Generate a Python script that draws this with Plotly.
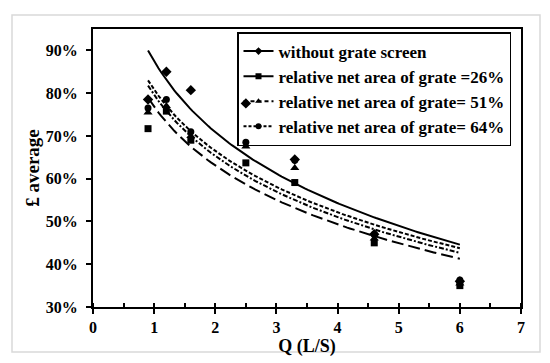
import numpy as np
import plotly.graph_objects as go

# ---- data ----
q_values = [0.9, 1.2, 1.6, 2.5, 3.3, 4.6, 6.0]
series_names = [
    "without grate screen",
    "relative net area of grate =26%",
    "relative net area of grate= 51%",
    "relative net area of grate= 64%",
]
eff_without = [78.5, 85.0, 80.7, 77.6, 64.5, 47.0, 36.0]
eff_26 = [71.7, 75.8, 69.0, 63.7, 59.1, 45.0, 35.0]
eff_51 = [75.5, 77.0, 70.0, 67.5, 62.5, 46.0, 35.5]
eff_64 = [76.5, 78.5, 71.0, 68.5, 64.3, 47.0, 36.3]
y_ticks = [30, 40, 50, 60, 70, 80, 90]
y_tick_labels = ["30%", "40%", "50%", "60%", "70%", "80%", "90%"]
x_ticks = [0, 1, 2, 3, 4, 5, 6, 7]

all_series = [eff_without, eff_26, eff_51, eff_64]
symbols = ["diamond", "square", "triangle-up", "circle"]
marker_sizes = [8, 7, 8, 7]
trend_dash = ["solid", "12px,5px", "5px,2px,2px,2px", "4px,2px"]
legend_dash = ["solid", "solid", "4px,3px", "3px,2px"]

FONT = "Liberation Serif"
fig = go.Figure()

x_arr = np.array(q_values)
xs = np.linspace(x_arr.min(), x_arr.max(), 120)
for name, vals, td in zip(series_names, all_series, trend_dash):
    # logarithmic trend line (least squares on ln x)
    b, a = np.polyfit(np.log(x_arr), np.array(vals), 1)
    fig.add_trace(go.Scatter(x=xs, y=a + b * np.log(xs), mode="lines",
                             line=dict(color="black", width=2, dash=td),
                             showlegend=False, hoverinfo="skip"))

for name, vals, sym, ms in zip(series_names, all_series, symbols, marker_sizes):
    fig.add_trace(go.Scatter(x=q_values, y=vals, mode="markers",
                             marker=dict(symbol=sym, size=ms, color="black"),
                             showlegend=False, name=name))

for name, sym, ld in zip(series_names, symbols, legend_dash):
    fig.add_trace(go.Scatter(x=[None], y=[None], mode="lines+markers", name=name,
                             marker=dict(symbol=sym, size=6, color="black"),
                             line=dict(color="black", width=2, dash=ld)))

L, R, T, B = 93, 29, 29, 56
W, H = 550, 363
pw, ph = W - L - R, H - T - B

def px_x(p):
    return (p - L) / pw

def px_y(p):
    return (H - B - p) / ph

fig.update_layout(
    width=W, height=H,
    margin=dict(l=L, r=R, t=T, b=B),
    paper_bgcolor="white", plot_bgcolor="white",
    font=dict(family=FONT, size=16, color="black", weight="bold"),
    showlegend=True,
    legend=dict(x=px_x(237), y=px_y(32), xanchor="left", yanchor="top",
                bgcolor="rgba(0,0,0,0)", bordercolor="black", borderwidth=1.5,
                font=dict(family=FONT, size=17, color="black", weight="bold"),
                itemwidth=30, tracegroupgap=0),
    xaxis=dict(range=[0, 7], tickvals=x_ticks, ticks="outside", ticklen=5, tickwidth=2,
               tickcolor="black", showline=True, linewidth=2, linecolor="black", mirror=True,
               showgrid=False, zeroline=False,
               minor=dict(dtick=0.5, ticks="inside", ticklen=4, tickwidth=2, tickcolor="black", showgrid=False),
               tickfont=dict(family=FONT, size=16, weight="bold"),
               title=dict(text="Q (L/S)", font=dict(family=FONT, size=18, weight="bold"), standoff=1)),
    yaxis=dict(range=[30, 95], tickvals=y_ticks, ticktext=y_tick_labels, ticks="outside", ticklen=5,
               tickwidth=2, tickcolor="black", showline=True, linewidth=2, linecolor="black",
               mirror=True, showgrid=False, zeroline=False, ticklabelstandoff=5,
               tickfont=dict(family=FONT, size=16, weight="bold"),
               title=dict(text="£ average", font=dict(family=FONT, size=19, weight="bold"), standoff=1)),
    shapes=[dict(type="rect", xref="paper", yref="paper",
                 x0=px_x(12), x1=px_x(540), y0=px_y(352), y1=px_y(15),
                 line=dict(color="#d9d9d9", width=1.5), layer="below")],
)

fig.write_html("out.html", config={"displayModeBar": False},
               post_script="document.body.style.margin='0';")
